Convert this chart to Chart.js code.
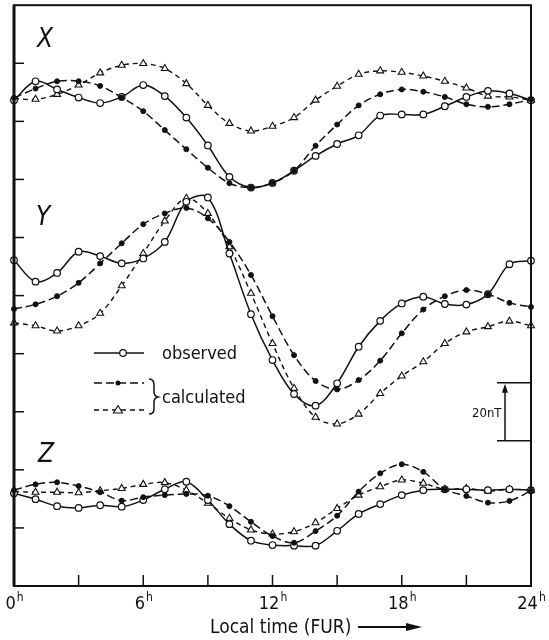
<!DOCTYPE html>
<html>
<head>
<meta charset="utf-8">
<script src="https://cdn.jsdelivr.net/npm/chart.js@4.4.1/dist/chart.umd.min.js"></script>
<style>
  html, body { margin: 0; padding: 0; background: #fff; }
  #wrap { width: 549px; height: 640px; }
</style>
</head>
<body>
<div id="wrap"><canvas id="chart"></canvas></div>
<script>
// local time, hours
const hours = [0, 1, 2, 3, 4, 5, 6, 7, 8, 9, 10, 11, 12, 13, 14, 15, 16, 17, 18, 19, 20, 21, 22, 23, 24];

// X component (nT, plotted with its offset)
const xObserved = [167.3, 173.8, 171.0, 168.2, 166.3, 168.4, 172.5, 168.7, 161.3, 151.7, 140.9, 137.2, 138.8, 143.0, 148.1, 152.2, 155.2, 162.0, 162.4, 162.4, 165.2, 168.4, 170.5, 169.6, 167.3];
const xCalcDot  = [168.1, 171.3, 173.8, 173.8, 172.2, 168.2, 163.5, 157.0, 150.4, 144.0, 138.7, 137.2, 138.8, 143.0, 151.6, 158.9, 165.5, 169.3, 171.0, 170.2, 168.4, 165.9, 165.0, 165.9, 167.5];
const xCalcTri  = [167.9, 167.6, 169.3, 172.5, 176.7, 179.3, 179.9, 178.2, 173.0, 165.5, 159.3, 156.7, 158.3, 161.3, 167.3, 172.1, 176.2, 177.4, 176.9, 175.6, 173.8, 171.5, 168.7, 168.4, 167.3];

// Y component
const yObserved = [112.2, 104.8, 107.8, 115.1, 113.6, 111.1, 112.8, 118.5, 132.3, 133.8, 114.5, 93.6, 77.8, 66.1, 62.1, 69.8, 82.4, 91.3, 97.3, 99.6, 97.1, 96.9, 100.5, 110.8, 112.0];
const yCalcDot  = [95.4, 97.0, 99.8, 104.4, 111.1, 118.0, 124.6, 128.3, 130.2, 126.6, 118.5, 107.1, 92.9, 79.5, 70.6, 67.7, 70.9, 77.6, 87.0, 95.2, 99.8, 101.9, 100.5, 97.5, 96.1];
const yCalcTri  = [90.6, 89.6, 87.8, 89.6, 93.9, 103.4, 114.5, 125.7, 133.5, 128.3, 116.8, 100.8, 83.5, 68.1, 58.1, 55.8, 59.2, 66.3, 72.3, 77.2, 83.5, 87.5, 89.3, 91.2, 89.6];

// Z component
const zObserved = [31.9, 29.9, 27.5, 26.9, 27.8, 27.3, 29.6, 33.3, 35.9, 29.6, 21.3, 15.6, 14.1, 13.9, 13.9, 19.0, 24.8, 28.2, 31.3, 33.0, 33.3, 33.3, 33.0, 33.3, 33.0];
const zCalcDot  = [33.0, 35.0, 35.7, 34.4, 32.3, 29.4, 30.6, 31.3, 31.7, 31.1, 27.5, 22.1, 17.2, 14.9, 18.9, 24.2, 32.5, 38.8, 41.9, 39.3, 33.3, 31.0, 28.7, 29.3, 32.8];
const zCalcTri  = [32.5, 32.3, 32.3, 32.1, 32.8, 33.6, 35.0, 35.6, 33.0, 28.5, 23.3, 19.3, 17.9, 18.7, 21.8, 26.7, 31.3, 34.2, 36.5, 35.4, 33.3, 33.6, 32.7, 33.3, 33.0];

const yTicks = [20, 40, 60, 80, 100, 120, 140, 160, 180];
const xTicks = [3, 6, 9, 12, 15, 18, 21];
const xLabels = [0, 6, 12, 18, 24];
const scaleBar = [50, 70]; // 20 nT

const ink = '#111';
const FONT = '"Liberation Sans Narrow", "DejaVu Sans Condensed", "Roboto Condensed", "Liberation Sans", sans-serif';

function pts(values) {
  return values.map((v, i) => ({ x: hours[i], y: v }));
}

function observed(values) {
  return {
    data: pts(values), order: 1, clip: false,
    borderColor: ink, borderWidth: 1.5, tension: 0.35,
    pointStyle: 'circle', pointRadius: 3.3,
    pointBackgroundColor: '#fff', pointBorderColor: ink, pointBorderWidth: 1.2
  };
}
function calcDot(values) {
  return {
    data: pts(values), order: 0, clip: false,
    borderColor: ink, borderWidth: 1.5, tension: 0.35, borderDash: [8, 4],
    pointStyle: 'circle', pointRadius: 2.5,
    pointBackgroundColor: ink, pointBorderColor: ink, pointBorderWidth: 1
  };
}
function calcTri(values) {
  return {
    data: pts(values), order: 2, clip: false,
    borderColor: ink, borderWidth: 1.4, tension: 0.35, borderDash: [5, 4],
    pointStyle: 'triangle', pointRadius: 4,
    pointBackgroundColor: '#fff', pointBorderColor: ink, pointBorderWidth: 1.1
  };
}

function line(ctx, x1, y1, x2, y2) {
  ctx.beginPath(); ctx.moveTo(x1, y1); ctx.lineTo(x2, y2); ctx.stroke();
}

const extras = {
  id: 'extras',
  afterDraw(chart) {
    const { ctx, chartArea: a } = chart;
    const xs = chart.scales.x, ys = chart.scales.y;
    ctx.save();
    ctx.strokeStyle = ink; ctx.fillStyle = ink;
    ctx.setLineDash([]);

    // frame
    ctx.lineWidth = 2;
    ctx.strokeRect(a.left, a.top, a.right - a.left, a.bottom - a.top);
    ctx.lineWidth = 3;
    line(ctx, a.left, a.top, a.left, a.bottom);

    // inward ticks
    ctx.lineWidth = 1.5;
    yTicks.forEach(v => { const p = ys.getPixelForValue(v); line(ctx, a.left, p, a.left + 10, p); });
    xTicks.forEach(h => { const p = xs.getPixelForValue(h); line(ctx, p, a.bottom, p, a.bottom - 11); });

    // hour labels with superscript h
    ctx.textBaseline = 'alphabetic';
    xLabels.forEach(h => {
      const p = xs.getPixelForValue(h);
      ctx.font = '18px ' + FONT;
      const wn = ctx.measureText(String(h)).width;
      ctx.font = '12px ' + FONT;
      const wh = ctx.measureText('h').width;
      const x0 = p - (wn + wh) / 2;
      ctx.textAlign = 'left';
      ctx.font = '18px ' + FONT;
      ctx.fillText(String(h), x0, 609);
      ctx.font = '12px ' + FONT;
      ctx.fillText('h', x0 + wn + 1, 601);
    });

    // axis title with arrow
    ctx.font = '19px ' + FONT;
    ctx.textAlign = 'left';
    ctx.fillText('Local time (FUR)', 210, 633);
    ctx.lineWidth = 2;
    line(ctx, 358, 627, 410, 627);
    ctx.beginPath(); ctx.moveTo(422, 627); ctx.lineTo(406, 623); ctx.lineTo(406, 631); ctx.closePath(); ctx.fill();

    // component labels
    ctx.font = 'italic 26px ' + FONT;
    ctx.fillText('X', 37, 47);
    ctx.fillText('Y', 36, 225);
    ctx.fillText('Z', 38, 462);

    // legend
    ctx.lineWidth = 1.5;
    line(ctx, 94, 353, 144, 353);
    ctx.beginPath(); ctx.arc(123, 353, 3.3, 0, Math.PI * 2); ctx.fillStyle = '#fff'; ctx.fill(); ctx.lineWidth = 1.2; ctx.stroke();
    ctx.fillStyle = ink;
    ctx.lineWidth = 1.5;
    ctx.setLineDash([8, 4]);
    line(ctx, 94, 383, 144, 383);
    ctx.setLineDash([5, 4]);
    line(ctx, 94, 410, 144, 410);
    ctx.setLineDash([]);
    ctx.beginPath(); ctx.arc(118, 383, 2.5, 0, Math.PI * 2); ctx.fill();
    ctx.beginPath(); ctx.moveTo(118, 405.5); ctx.lineTo(122.5, 413); ctx.lineTo(113.5, 413); ctx.closePath();
    ctx.fillStyle = '#fff'; ctx.fill(); ctx.lineWidth = 1.1; ctx.stroke(); ctx.fillStyle = ink;
    // brace
    ctx.lineWidth = 1.5;
    ctx.beginPath();
    ctx.moveTo(149, 379);
    ctx.quadraticCurveTo(154, 379, 154, 385);
    ctx.lineTo(154, 392);
    ctx.quadraticCurveTo(154, 396, 158, 397);
    ctx.quadraticCurveTo(154, 398, 154, 402);
    ctx.lineTo(154, 409);
    ctx.quadraticCurveTo(154, 414, 149, 414);
    ctx.stroke();
    ctx.font = '18px ' + FONT;
    ctx.fillText('observed', 162, 359);
    ctx.fillText('calculated', 162, 403);

    // 20 nT scale bar
    const top = ys.getPixelForValue(scaleBar[1]);
    const bot = ys.getPixelForValue(scaleBar[0]);
    ctx.lineWidth = 1.5;
    line(ctx, 497, top, a.right, top);
    line(ctx, 497, bot, a.right, bot);
    line(ctx, 505, top + 6, 505, bot);
    ctx.beginPath(); ctx.moveTo(505, top + 1); ctx.lineTo(502, top + 10); ctx.lineTo(508, top + 10); ctx.closePath(); ctx.fill();
    ctx.font = '13px ' + FONT;
    ctx.fillText('20nT', 472, 417);

    ctx.restore();
  }
};

new Chart(document.getElementById('chart'), {
  type: 'line',
  data: {
    datasets: [
      observed(xObserved), calcDot(xCalcDot), calcTri(xCalcTri),
      observed(yObserved), calcDot(yCalcDot), calcTri(yCalcTri),
      observed(zObserved), calcDot(zCalcDot), calcTri(zCalcTri)
    ]
  },
  options: {
    responsive: true,
    maintainAspectRatio: false,
    animation: false,
    layout: { padding: { left: 14, top: 5, right: 18, bottom: 54 } },
    scales: {
      x: { type: 'linear', min: 0, max: 24, display: false },
      y: { min: 0, max: 200, display: false }
    },
    plugins: { legend: { display: false }, tooltip: { enabled: false } }
  },
  plugins: [extras]
});
</script>
</body>
</html>
